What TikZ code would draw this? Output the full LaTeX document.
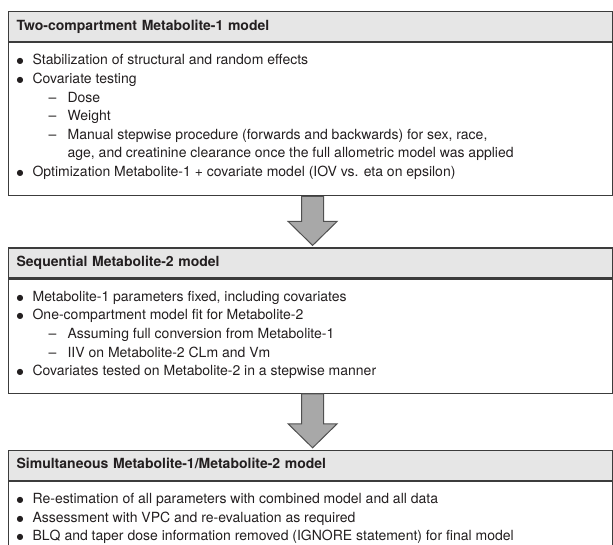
\documentclass[tikz,border=0pt]{standalone}
\usepackage{fontspec}
\setmainfont{TeX Gyre Heros}
\newfontfamily\bulletfont{DejaVu Sans}
\usetikzlibrary{positioning,calc}

\definecolor{framegray}{HTML}{3C3C3C}
\definecolor{headgray}{HTML}{E6E6E6}
\definecolor{arrowgray}{HTML}{A8A8A8}
\definecolor{textblack}{HTML}{231F20}

% list lines inside the stage boxes
\newcommand{\dotmark}{\raisebox{1pt}{\fontsize{8pt}{0pt}\bulletfont ●}}
\newcommand{\itm}[1]{\par\strut\makebox[16pt][l]{\dotmark}#1}
\newcommand{\subitm}[1]{\par\strut\hspace*{32pt}\makebox[19pt][l]{\textendash}#1}
\newcommand{\contd}[1]{\par\strut\hspace*{51pt}#1}
\newcommand{\stagebody}[2]{\parbox[c][#1][t]{588pt}{\parindent=0pt\parskip=0pt
  \fontsize{14pt}{18.6pt}\selectfont\vspace*{9pt}#2}}

\tikzset{
  stagehead/.style={draw=framegray, line width=1.2pt, fill=headgray,
    minimum width=604pt, minimum height=30pt, text width=588pt,
    inner xsep=8pt, inner ysep=0pt, align=left, text height=10pt, text depth=3pt,
    font=\fontsize{14pt}{17pt}\selectfont\bfseries},
  stagebody/.style={draw=framegray, line width=1.2pt, inner xsep=8pt, inner ysep=0pt,
    minimum width=604pt},
  blockarrow/.style={draw=framegray!90, line width=1pt, fill=arrowgray, line join=miter}
}

\begin{document}
\begin{tikzpicture}[x=1pt, y=1pt, node distance=0pt, text=textblack]
  \useasboundingbox (0,0) rectangle (613,-544);

  \node[stagehead, anchor=north west] (head1) at (8,-11) {Two-compartment Metabolite-1 model};
  \node[stagebody, below=of head1] (body1) {\stagebody{153pt}{%
    \itm{Stabilization of structural and random effects}
    \itm{Covariate testing}
    \subitm{Dose}
    \subitm{Weight}
    \subitm{Manual stepwise procedure (forwards and backwards) for sex, race,}
    \contd{age, and creatinine clearance once the full allometric model was applied}
    \itm{Optimization Metabolite-1 + covariate model (IOV vs. eta on epsilon)}}};

  \node[stagehead, below=51pt of body1] (head2) {Sequential Metabolite-2 model};
  \node[stagebody, below=of head2] (body2) {\stagebody{114pt}{%
    \itm{Metabolite-1 parameters fixed, including covariates}
    \itm{One-compartment model fit for Metabolite-2}
    \subitm{Assuming full conversion from Metabolite-1}
    \subitm{IIV on Metabolite-2 CLm and Vm}
    \itm{Covariates tested on Metabolite-2 in a stepwise manner}}};

  \node[stagehead, below=56pt of body2] (head3) {Simultaneous Metabolite-1/Metabolite-2 model};
  \node[stagebody, below=of head3] (body3) {\stagebody{76pt}{%
    \itm{Re-estimation of all parameters with combined model and all data}
    \itm{Assessment with VPC and re-evaluation as required}
    \itm{BLQ and taper dose information removed (IGNORE statement) for final model}}};

  % arrows between the stages
  \draw[blockarrow] ($(body1.south)+(-9,0)$) -- ($(head2.north)+(-9,26)$) -- ($(head2.north)+(-22.5,26)$)
    -- ($(head2.north)+(2,2)$) -- ($(head2.north)+(26.5,26)$) -- ($(head2.north)+(13,26)$)
    -- ($(body1.south)+(13,0)$) -- cycle;
  \draw[blockarrow] ($(body2.south)+(-9,0)$) -- ($(head3.north)+(-9,26)$) -- ($(head3.north)+(-22.5,26)$)
    -- ($(head3.north)+(2,2)$) -- ($(head3.north)+(26.5,26)$) -- ($(head3.north)+(13,26)$)
    -- ($(body2.south)+(13,0)$) -- cycle;
\end{tikzpicture}
\end{document}
